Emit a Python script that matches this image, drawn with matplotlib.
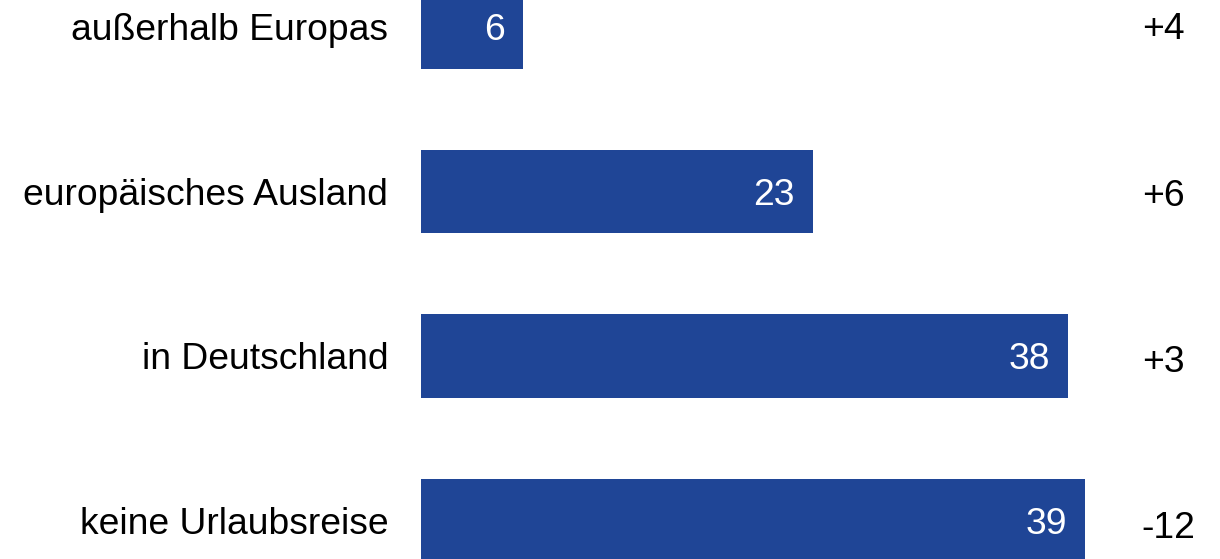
import matplotlib.pyplot as plt
import matplotlib.transforms as mtransforms

categories = ["außerhalb Europas", "europäisches Ausland", "in Deutschland", "keine Urlaubsreise"]
shares = [6, 23, 38, 39]
changes = ["+4", "+6", "+3", "-12"]

bar_color = "#1F4596"

plt.rcParams["font.family"] = ["Liberation Sans", "DejaVu Sans"]

fig = plt.figure(figsize=(12.2, 5.59), dpi=100)
ax = fig.add_axes([421 / 1220, 0, 799 / 1220, 1])

y = list(range(len(categories)))
ax.barh(y, shares, height=0.505, color=bar_color)

ax.set_xlim(0, 799 / 17.03)
ax.set_ylim(3.234, -0.164)

# category labels on the left
ax.set_yticks(y)
ax.set_yticklabels(categories, fontsize=26.8)
ax.tick_params(axis="y", length=0, pad=23.5)
ax.set_xticks([])
for side in ax.spines.values():
    side.set_visible(False)

# values inside the bars
for yi, v in zip(y, shares):
    ax.annotate(
        str(v),
        xy=(v, yi),
        xytext=(-13, 0),
        textcoords="offset points",
        ha="right",
        va="center_baseline",
        color="white",
        fontsize=26.8,
    )

# change column on the right (its rows sit on a slightly wider pitch)
trans = mtransforms.blended_transform_factory(ax.transAxes, ax.transData)
for yi, c in zip(y, changes):
    ax.text(0.902, yi * 1.0103 - 0.006, c, transform=trans, ha="left",
            va="center_baseline", fontsize=26.8, color="black")

fig.savefig("out.png", dpi=100)
